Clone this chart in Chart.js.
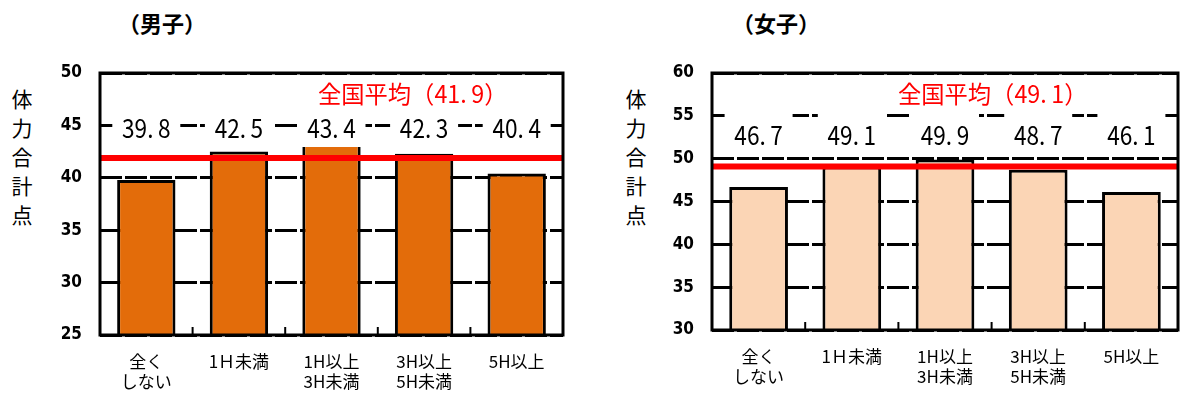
<!DOCTYPE html>
<html>
<head>
<meta charset="utf-8">
<script src="https://cdn.jsdelivr.net/npm/chart.js@4"></script>
<style>
body { margin:0; background:#fff; }
#wrap { position:relative; width:1181px; height:394px; overflow:hidden; font-family:"Noto Sans CJK JP", sans-serif; }
.box { position:absolute; top:0; height:394px; }
.title { position:absolute; top:6px; font-size:22px; font-weight:bold; color:#000; }
.ytitle { position:absolute; top:84px; font-size:21px; line-height:29px; width:24px; text-align:center; color:#000; }
</style>
</head>
<body>
<div id="wrap">
  <div class="title" style="left:118px">（男子）</div>
  <div class="title" style="left:732px">（女子）</div>
  <div class="ytitle" style="left:10px">体<br>力<br>合<br>計<br>点</div>
  <div class="ytitle" style="left:624px">体<br>力<br>合<br>計<br>点</div>
  <div class="box" style="left:0;width:590px"><canvas id="boysChart" width="590" height="394"></canvas></div>
  <div class="box" style="left:590px;width:591px"><canvas id="girlsChart" width="591" height="394"></canvas></div>
</div>
<script>
let categories = [['全く', 'しない'], '1Ｈ未満', ['1H以上', '3H未満'], ['3H以上', '5H未満'], '5H以上'];

let boys = [39.8, 42.5, 43.4, 42.3, 40.4];
let boysAvg = 41.9;
let boysMin = 25, boysMax = 50;

let girls = [46.7, 49.1, 49.9, 48.7, 46.1];
let girlsAvg = 49.1;
let girlsMin = 30, girlsMax = 60;

let tickStep = 5;

function fmt(v) {
    return v.toFixed(1).replace('.', '.\u2009');
}

// text squeezed horizontally like the original
function narrowText(ctx, text, x, y, align, sx) {
    ctx.save();
    ctx.translate(x, y);
    ctx.scale(sx, 1);
    ctx.textAlign = align;
    ctx.fillText(text, 0, 0);
    ctx.restore();
}

// average line, value labels and frame drawn on top of the bars
let overlay = {
    id: 'overlay',
    afterDatasetsDraw(chart, args, opts) {
        let ctx = chart.ctx;
        let a = chart.chartArea;
        let x = chart.scales.x;
        let y = chart.scales.y;
        ctx.save();

        // little ticks on the bottom between categories
        ctx.strokeStyle = '#000';
        ctx.lineWidth = 2;
        for (let i = 1; i < chart.data.labels.length; i++) {
            let px = (x.getPixelForValue(i - 1) + x.getPixelForValue(i)) / 2;
            ctx.beginPath();
            ctx.moveTo(px, a.bottom);
            ctx.lineTo(px, a.bottom - 8);
            ctx.stroke();
        }

        // value labels on white boxes
        ctx.font = '26px "Noto Sans CJK JP"';
        ctx.textBaseline = 'middle';
        chart.data.datasets[0].data.forEach((v, i) => {
            let px = x.getPixelForValue(i);
            let py = a.top + opts.labelY;
            ctx.fillStyle = '#fff';
            ctx.fillRect(px - 34, py - 23, 68, 42);
            ctx.fillStyle = '#000';
            narrowText(ctx, fmt(v), px, py, 'center', 0.87);
        });

        // national average
        let ay = y.getPixelForValue(opts.avg);
        ctx.strokeStyle = '#ff0000';
        ctx.lineWidth = 6;
        ctx.beginPath();
        ctx.moveTo(a.left, ay);
        ctx.lineTo(a.right, ay);
        ctx.stroke();

        ctx.fillStyle = '#ff0000';
        ctx.font = '24px "Noto Sans CJK JP"';
        narrowText(ctx, '全国平均（' + fmt(opts.avg) + '）', a.left + opts.avgX, a.top + 21, 'left', 0.97);

        // frame
        ctx.strokeStyle = '#000';
        ctx.lineWidth = 3;
        ctx.strokeRect(a.left, a.top, a.width, a.height);
        ctx.restore();
    }
};

function makeChart(id, values, color, min, max, avg, padRight, yWidth, xHeight, labelY, avgX) {
    let ctx = document.getElementById(id).getContext('2d');
    return new Chart(ctx, {
        type: 'bar',
        data: {
            labels: categories,
            datasets: [{
                data: values,
                backgroundColor: color,
                borderColor: '#000',
                borderWidth: 3,
                barPercentage: 0.63,
                categoryPercentage: 1
            }]
        },
        options: {
            responsive: false,
            animation: false,
            layout: { padding: { top: 73, right: padRight, left: 0, bottom: 0 } },
            scales: {
                x: {
                    grid: { display: false },
                    border: { display: false },
                    ticks: { color: '#000', font: { family: '"Noto Sans CJK JP"', size: 17 }, padding: 8, maxRotation: 0 },
                    afterFit: s => { s.height = xHeight; }
                },
                y: {
                    min: min,
                    max: max,
                    grid: { color: '#000', lineWidth: 3, drawTicks: false },
                    border: { display: false, dash: [22, 3] },
                    ticks: {
                        stepSize: tickStep,
                        color: '#000',
                        padding: 18,
                        font: { family: '"Liberation Sans Narrow", "DejaVu Sans Condensed", sans-serif', size: 17, weight: 'bold' }
                    },
                    afterFit: s => { s.width = yWidth; }
                }
            },
            plugins: {
                legend: { display: false },
                tooltip: { enabled: false },
                overlay: { avg: avg, labelY: labelY, avgX: avgX }
            }
        },
        plugins: [overlay]
    });
}

makeChart('boysChart', boys, '#e36c0a', boysMin, boysMax, boysAvg, 27, 100, 59, 55, 218);
makeChart('girlsChart', girls, '#fbd5b5', girlsMin, girlsMax, girlsAvg, 3, 122, 64, 62, 186);
</script>
</body>
</html>
